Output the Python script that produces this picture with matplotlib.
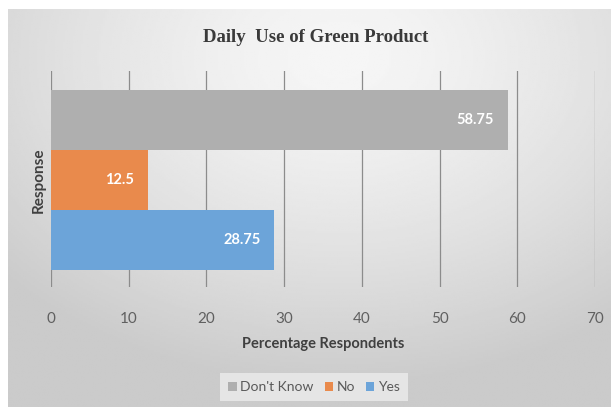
import matplotlib
matplotlib.use('Agg')
import matplotlib.pyplot as plt
import numpy as np

# data
responses = ["Yes", "No", "Don't Know"]
percentages = [28.75, 12.5, 58.75]
bar_colors = ['#6ca4d9', '#e98a4c', '#afafaf']
x_ticks = [0, 10, 20, 30, 40, 50, 60, 70]

W, H = 611, 407
fig = plt.figure(figsize=(W / 100, H / 100), dpi=100)
fig.patch.set_facecolor('white')

# gradient panel behind the chart
bg = fig.add_axes([8 / W, 0, 1 - 8 / W, (H - 9) / H])
bg.set_axis_off()
yy, xx = np.mgrid[0:1:200j, 0:1:300j]
r = np.sqrt(((xx - 0.55) / 1.0) ** 2 + ((yy - 0.12) / 1.1) ** 2)
shade = 0.965 - 0.17 * np.clip(r / 0.75, 0, 1) ** 1.4
bg.imshow(shade, cmap='gray', vmin=0, vmax=1, aspect='auto', extent=[0, 1, 1, 0])
bg.set_xlim(0, 1)
bg.set_ylim(1, 0)

ax = fig.add_axes([51 / W, (H - 287) / H, (595 - 51) / W, (287 - 71) / H])
ax.patch.set_alpha(0)

font = 'Lato'
ypos = np.arange(len(responses))
bars = ax.barh(ypos, percentages, height=1.0, color=bar_colors, zorder=3,
               label=responses)
for rect, v in zip(bars, percentages):
    ax.text(v - 1.8, rect.get_y() + rect.get_height() / 2, f'{v:g}',
            ha='right', va='center', color='white', fontsize=10.5,
            fontweight='bold', family=font, zorder=4)

ax.set_xlim(0, 70)
ax.set_ylim(-0.78, 2.82)
ax.set_xticks(x_ticks)
ax.set_xticklabels([str(t) for t in x_ticks], family=font, fontsize=11, color='#606060')
ax.set_yticks([])
ax.tick_params(axis='x', length=0, pad=18)
ax.grid(axis='x', color='#8c8c8c', linewidth=0.9, zorder=1)
for s in ax.spines.values():
    s.set_visible(False)

ax.set_xlabel('Percentage Respondents', family=font, fontsize=10.5,
              fontweight='bold', color='#404040', labelpad=8)
ax.set_ylabel('Response', family=font, fontsize=11, fontweight='bold',
              color='#404040')
ax.yaxis.set_label_coords(-0.010, 0.495)

fig.text(316 / W, 1 - 37 / H, 'Daily  Use of Green Product', ha='center', va='center',
         family='Liberation Serif', fontsize=13.5, fontweight='bold', color='#3a3a3a')

handles = [bars[2], bars[1], bars[0]]
leg = fig.legend(handles, ["Don't Know", 'No', 'Yes'], loc='center',
                 bbox_to_anchor=(314 / W, 1 - 387 / H), ncol=3, frameon=True,
                 handlelength=0.6, handleheight=0.6, handletextpad=0.25,
                 columnspacing=0.8, borderpad=0.6, borderaxespad=0, fancybox=False,
                 prop={'family': font, 'size': 10})
leg.get_frame().set_facecolor('#ececec')
leg.get_frame().set_edgecolor('none')
for t in leg.get_texts():
    t.set_color('#595959')

fig.savefig('out.png', dpi=100)
